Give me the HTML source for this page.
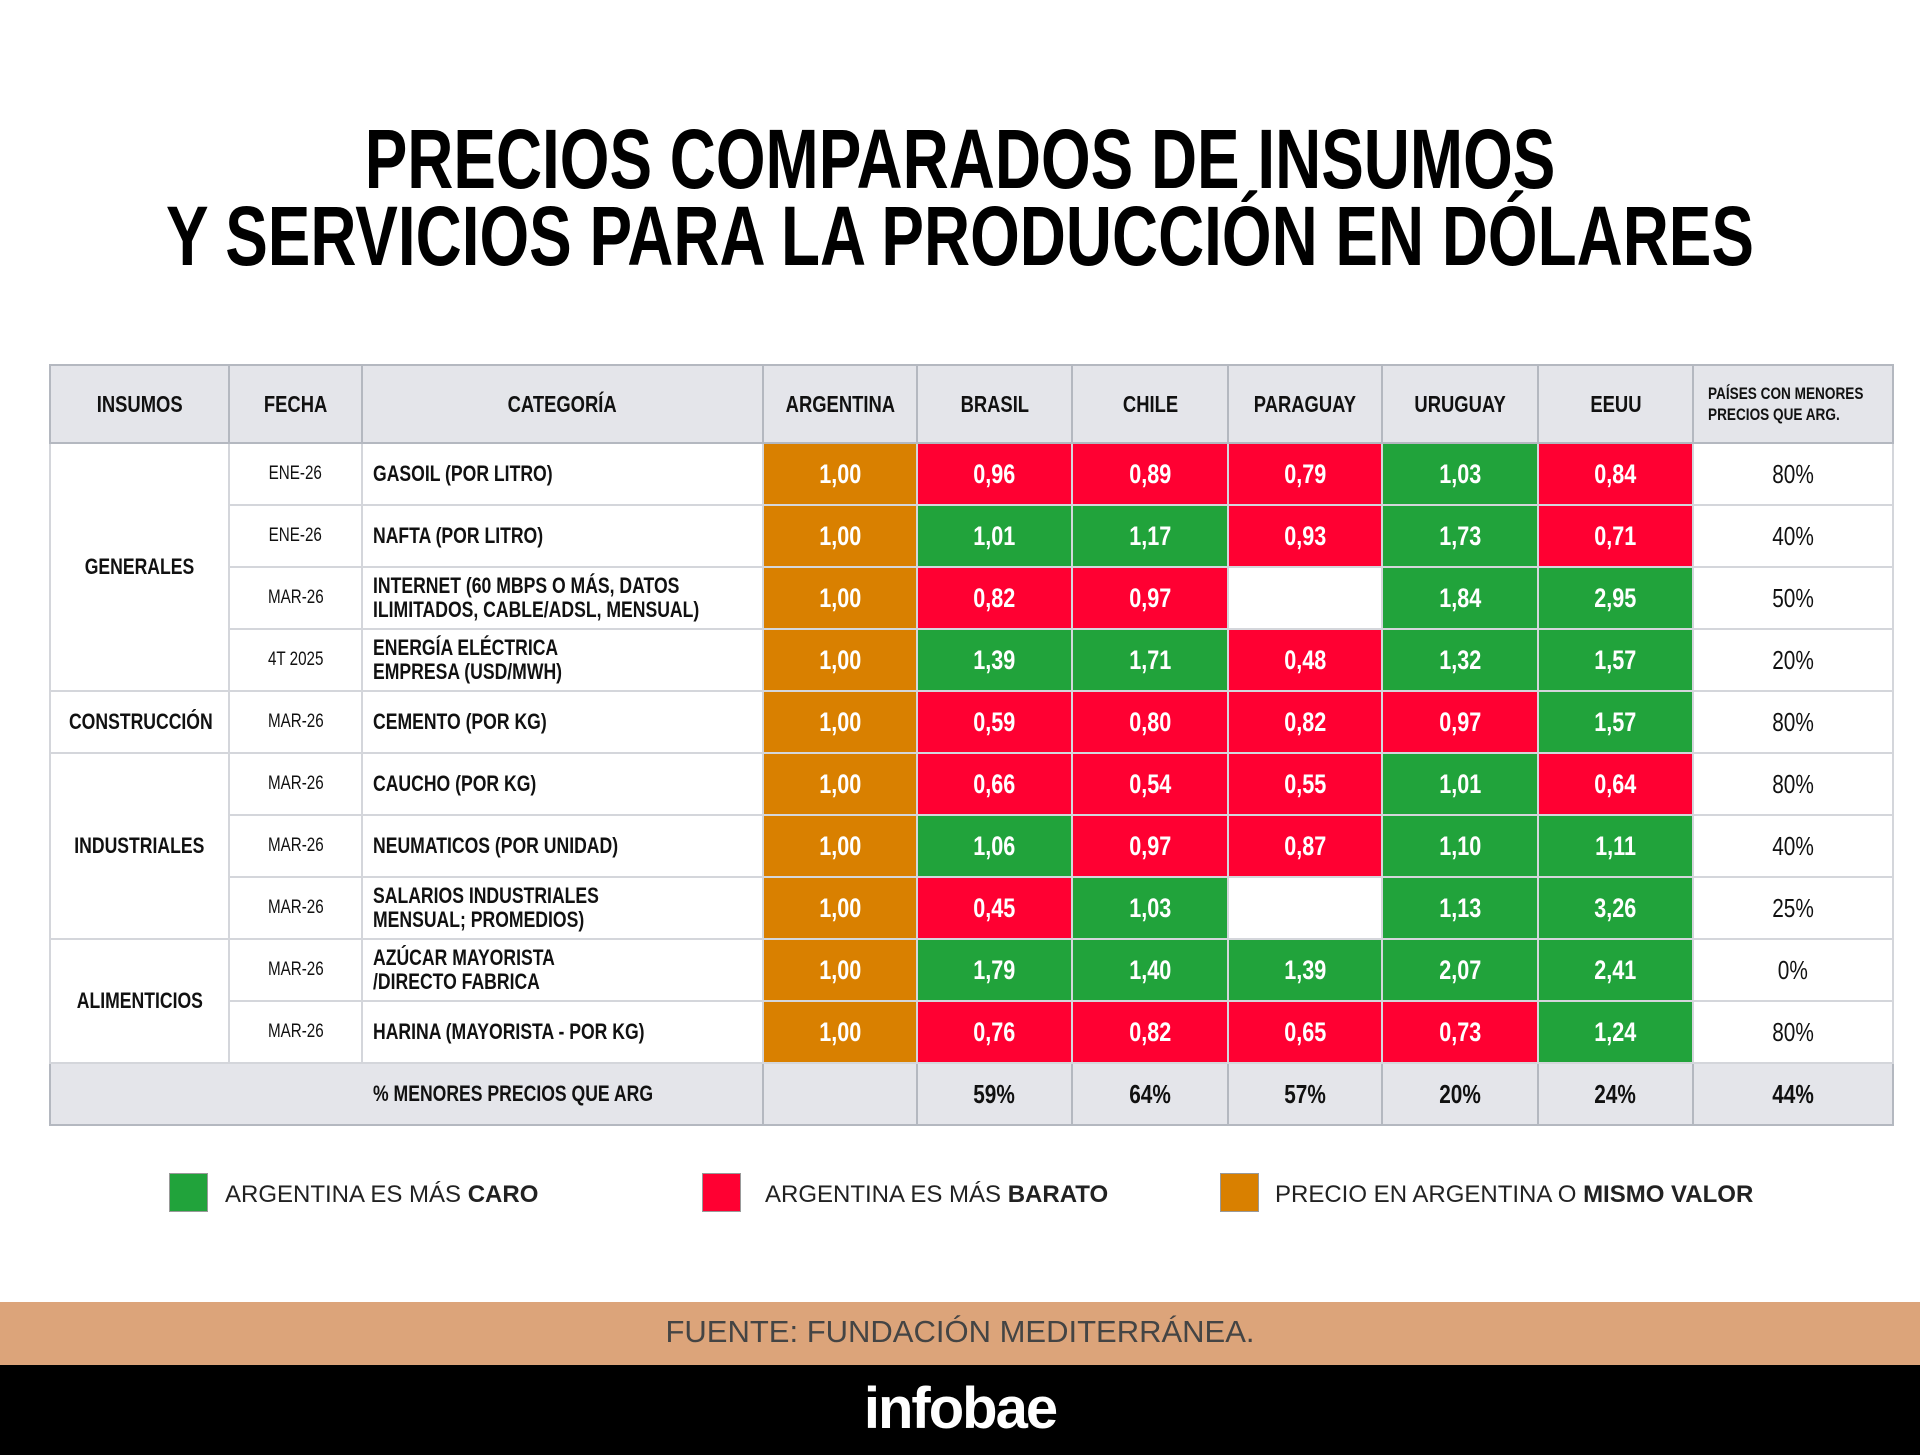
<!DOCTYPE html>
<html><head><meta charset="utf-8"><style>
*{margin:0;padding:0;box-sizing:border-box}
body{width:1920px;height:1455px;background:#fff;position:relative;overflow:hidden;font-family:"Liberation Sans",sans-serif;color:#111}
.t{position:absolute;left:960px;font-weight:bold;font-size:84px;line-height:84px;color:#000;white-space:nowrap;transform:translateX(-50%) scaleX(.76)}
table{position:absolute;left:49px;top:364px;width:1843px;border-collapse:collapse;table-layout:fixed}
td{border:2px solid #d4d6db;font-weight:bold;font-size:22px;text-align:center;padding:0;overflow:hidden;white-space:nowrap}
td span{display:inline-block;transform:scaleX(.8)}
.h td{background:#e4e5ea;border-color:#b4b8c0;height:78px;font-size:23px}
.r td{height:62px}
.cat{text-align:left;padding-left:10px;line-height:24px}
.cat span{transform-origin:left center}
.d{font-weight:normal;font-size:19px}
.O,.R,.G{color:#fff;font-size:27px}
.O{background:#d98000}.R{background:#ff0032}.G{background:#21a33b}
.p{font-weight:normal;font-size:26px}
.f td{background:#e4e5ea;border-color:#b4b8c0;height:62px;font-size:26px}
.lg{position:absolute;top:1173px;width:39px;height:39px;border:1px solid #999}
.lt{position:absolute;top:1181px;font-size:24px;color:#222}
</style></head><body>
<div class="t" style="top:117px">PRECIOS COMPARADOS DE INSUMOS</div>
<div class="t" style="top:194px">Y SERVICIOS PARA LA PRODUCCIÓN EN DÓLARES</div>
<table>
<colgroup><col style="width:179px"><col style="width:133px"><col style="width:401px"><col style="width:154px"><col style="width:155px"><col style="width:156px"><col style="width:154px"><col style="width:156px"><col style="width:155px"><col style="width:200px"></colgroup>
<tr class="h"><td><span>INSUMOS</span></td><td><span>FECHA</span></td><td><span>CATEGORÍA</span></td><td><span>ARGENTINA</span></td><td><span>BRASIL</span></td><td><span>CHILE</span></td><td><span>PARAGUAY</span></td><td><span>URUGUAY</span></td><td><span>EEUU</span></td><td style="font-size:17px;line-height:21px;text-align:left;padding-left:14px"><span style="transform-origin:left">PAÍSES CON MENORES<br>PRECIOS QUE ARG.</span></td></tr>
<tr class="r"><td rowspan="4"><span>GENERALES</span></td><td class="d"><span>ENE-26</span></td><td class="cat"><span>GASOIL (POR LITRO)</span></td><td class="O"><span>1,00</span></td><td class="R"><span>0,96</span></td><td class="R"><span>0,89</span></td><td class="R"><span>0,79</span></td><td class="G"><span>1,03</span></td><td class="R"><span>0,84</span></td><td class="p"><span>80%</span></td></tr>
<tr class="r"><td class="d"><span>ENE-26</span></td><td class="cat"><span>NAFTA (POR LITRO)</span></td><td class="O"><span>1,00</span></td><td class="G"><span>1,01</span></td><td class="G"><span>1,17</span></td><td class="R"><span>0,93</span></td><td class="G"><span>1,73</span></td><td class="R"><span>0,71</span></td><td class="p"><span>40%</span></td></tr>
<tr class="r"><td class="d"><span>MAR-26</span></td><td class="cat"><span>INTERNET (60 MBPS O MÁS, DATOS<br>ILIMITADOS, CABLE/ADSL, MENSUAL)</span></td><td class="O"><span>1,00</span></td><td class="R"><span>0,82</span></td><td class="R"><span>0,97</span></td><td></td><td class="G"><span>1,84</span></td><td class="G"><span>2,95</span></td><td class="p"><span>50%</span></td></tr>
<tr class="r"><td class="d"><span>4T 2025</span></td><td class="cat"><span>ENERGÍA ELÉCTRICA<br>EMPRESA (USD/MWH)</span></td><td class="O"><span>1,00</span></td><td class="G"><span>1,39</span></td><td class="G"><span>1,71</span></td><td class="R"><span>0,48</span></td><td class="G"><span>1,32</span></td><td class="G"><span>1,57</span></td><td class="p"><span>20%</span></td></tr>
<tr class="r"><td><span>CONSTRUCCIÓN</span></td><td class="d"><span>MAR-26</span></td><td class="cat"><span>CEMENTO (POR KG)</span></td><td class="O"><span>1,00</span></td><td class="R"><span>0,59</span></td><td class="R"><span>0,80</span></td><td class="R"><span>0,82</span></td><td class="R"><span>0,97</span></td><td class="G"><span>1,57</span></td><td class="p"><span>80%</span></td></tr>
<tr class="r"><td rowspan="3"><span>INDUSTRIALES</span></td><td class="d"><span>MAR-26</span></td><td class="cat"><span>CAUCHO (POR KG)</span></td><td class="O"><span>1,00</span></td><td class="R"><span>0,66</span></td><td class="R"><span>0,54</span></td><td class="R"><span>0,55</span></td><td class="G"><span>1,01</span></td><td class="R"><span>0,64</span></td><td class="p"><span>80%</span></td></tr>
<tr class="r"><td class="d"><span>MAR-26</span></td><td class="cat"><span>NEUMATICOS (POR UNIDAD)</span></td><td class="O"><span>1,00</span></td><td class="G"><span>1,06</span></td><td class="R"><span>0,97</span></td><td class="R"><span>0,87</span></td><td class="G"><span>1,10</span></td><td class="G"><span>1,11</span></td><td class="p"><span>40%</span></td></tr>
<tr class="r"><td class="d"><span>MAR-26</span></td><td class="cat"><span>SALARIOS INDUSTRIALES<br>MENSUAL; PROMEDIOS)</span></td><td class="O"><span>1,00</span></td><td class="R"><span>0,45</span></td><td class="G"><span>1,03</span></td><td></td><td class="G"><span>1,13</span></td><td class="G"><span>3,26</span></td><td class="p"><span>25%</span></td></tr>
<tr class="r"><td rowspan="2"><span>ALIMENTICIOS</span></td><td class="d"><span>MAR-26</span></td><td class="cat"><span>AZÚCAR MAYORISTA<br>/DIRECTO FABRICA</span></td><td class="O"><span>1,00</span></td><td class="G"><span>1,79</span></td><td class="G"><span>1,40</span></td><td class="G"><span>1,39</span></td><td class="G"><span>2,07</span></td><td class="G"><span>2,41</span></td><td class="p"><span>0%</span></td></tr>
<tr class="r"><td class="d"><span>MAR-26</span></td><td class="cat"><span>HARINA (MAYORISTA - POR KG)</span></td><td class="O"><span>1,00</span></td><td class="R"><span>0,76</span></td><td class="R"><span>0,82</span></td><td class="R"><span>0,65</span></td><td class="R"><span>0,73</span></td><td class="G"><span>1,24</span></td><td class="p"><span>80%</span></td></tr>
<tr class="f"><td colspan="3" style="text-align:left;padding-left:322px;font-size:22px"><span style="transform-origin:left">% MENORES PRECIOS QUE ARG</span></td><td></td><td><span>59%</span></td><td><span>64%</span></td><td><span>57%</span></td><td><span>20%</span></td><td><span>24%</span></td><td><span>44%</span></td></tr>
</table>
<div class="lg" style="left:169px;background:#21a33b"></div><div class="lt" style="left:225px">ARGENTINA ES MÁS <b>CARO</b></div>
<div class="lg" style="left:702px;background:#ff0032"></div><div class="lt" style="left:765px">ARGENTINA ES MÁS <b>BARATO</b></div>
<div class="lg" style="left:1220px;background:#d98000"></div><div class="lt" style="left:1275px">PRECIO EN ARGENTINA O <b>MISMO VALOR</b></div>
<div style="position:absolute;left:0;top:1302px;width:1920px;height:63px;background:#dca47a;text-align:center;font-size:31px;line-height:60px;color:#444">FUENTE: FUNDACIÓN MEDITERRÁNEA.</div>
<div style="position:absolute;left:0;top:1365px;width:1920px;height:90px;background:#000;text-align:center;color:#fff;font-size:58px;line-height:88px;font-weight:bold;letter-spacing:-2px">infobae</div>
</body></html>
